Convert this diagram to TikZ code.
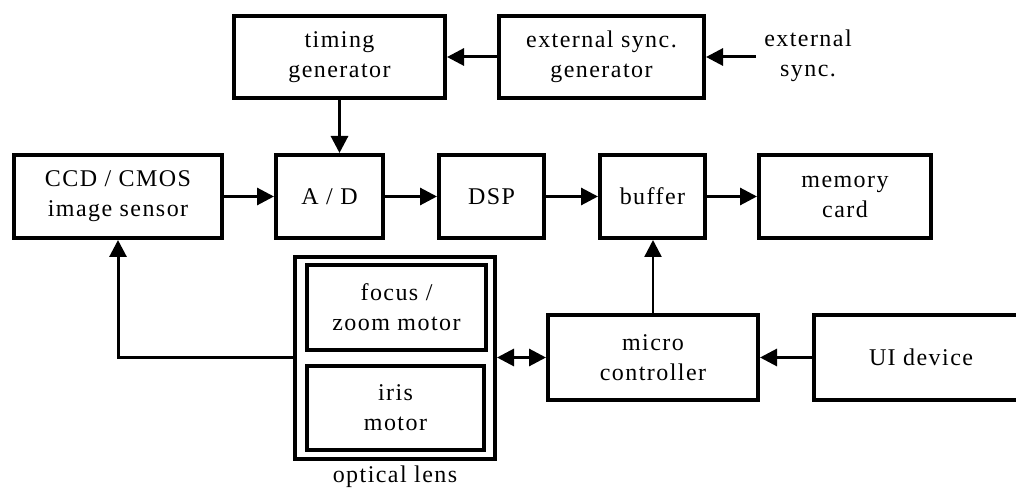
\documentclass[tikz,border=0pt]{standalone}
\usepackage{fontspec}
\setmainfont[LetterSpace=6]{Liberation Serif}
\usetikzlibrary{arrows.meta}
\begin{document}
\begin{tikzpicture}[x=0.5pt,y=-0.5pt,
  every node/.style={font=\fontsize{12}{15}\selectfont, align=center, inner sep=0pt},
  block/.style={draw, line width=2pt, rectangle},
  tip/.style={Triangle[length=8.5pt,width=8.5pt]},
  conn/.style={line width=1.5pt, -{Triangle[length=8.5pt,width=8.5pt]}},
  biconn/.style={line width=1.5pt, {Triangle[length=8.5pt,width=8.5pt]}-{Triangle[length=8.5pt,width=8.5pt]}}]
\useasboundingbox (0,0) rectangle (1016,491);

% top row
\node[block, minimum width=105.5pt, minimum height=41pt] (tg) at (339.5,57) {timing\\generator};
\node[block, minimum width=102.5pt, minimum height=41pt] (esg) at (601.5,57) {external sync.\\generator};
\node (extin) at (808,56) {external\\sync.};
\coordinate (extsrc) at (756,57);

% signal chain
\node[block, minimum width=104pt, minimum height=41.5pt] (ccd) at (118,196.5) {CCD / CMOS\\image sensor};
\node[block, minimum width=53.5pt, minimum height=41.5pt] (ad) at (329.5,196.5) {A / D};
\node[block, minimum width=52.5pt, minimum height=41.5pt] (dsp) at (491.5,196.5) {DSP};
\node[block, minimum width=52.5pt, minimum height=41.5pt] (buf) at (652.5,196.5) {buffer};
\node[block, minimum width=86pt, minimum height=41.5pt] (mem) at (845,196.5) {memory\\card};

% optical lens with its two motors
\node[block, minimum width=100pt, minimum height=101pt] (lens) at (395,358) {};
\node[block, minimum width=89.5pt, minimum height=42.5pt] (focus) at (396.5,307.5) {focus /\\zoom motor};
\node[block, minimum width=88.5pt, minimum height=42pt] (iris) at (395.5,408) {iris\\motor};
\node (lenslabel) at (395,477) {optical lens};

% control
\node[block, minimum width=105pt, minimum height=42.5pt] (mc) at (653,357.5) {micro\\controller};
\node[block, minimum width=107pt, minimum height=42.5pt] (ui) at (921,357.5) {UI device};

% connectors
\draw[conn] (esg.west) -- (tg.east);
\draw[conn] (extsrc) -- (esg.east);
\draw[conn] (tg.south) -- (tg.south |- ad.north);
\draw[conn] (ccd.east) -- (ad.west);
\draw[conn] (ad.east) -- (dsp.west);
\draw[conn] (dsp.east) -- (buf.west);
\draw[conn] (buf.east) -- (mem.west);
\draw[conn, line width=1.2pt] (mc.north) -- (mc.north |- buf.south);
\draw[biconn] (lens.east |- mc.west) -- (mc.west);
\draw[conn] (ui.west) -- (mc.east);
\draw[conn] (lens.west |- mc.west) -| (ccd.south);
\end{tikzpicture}
\end{document}
